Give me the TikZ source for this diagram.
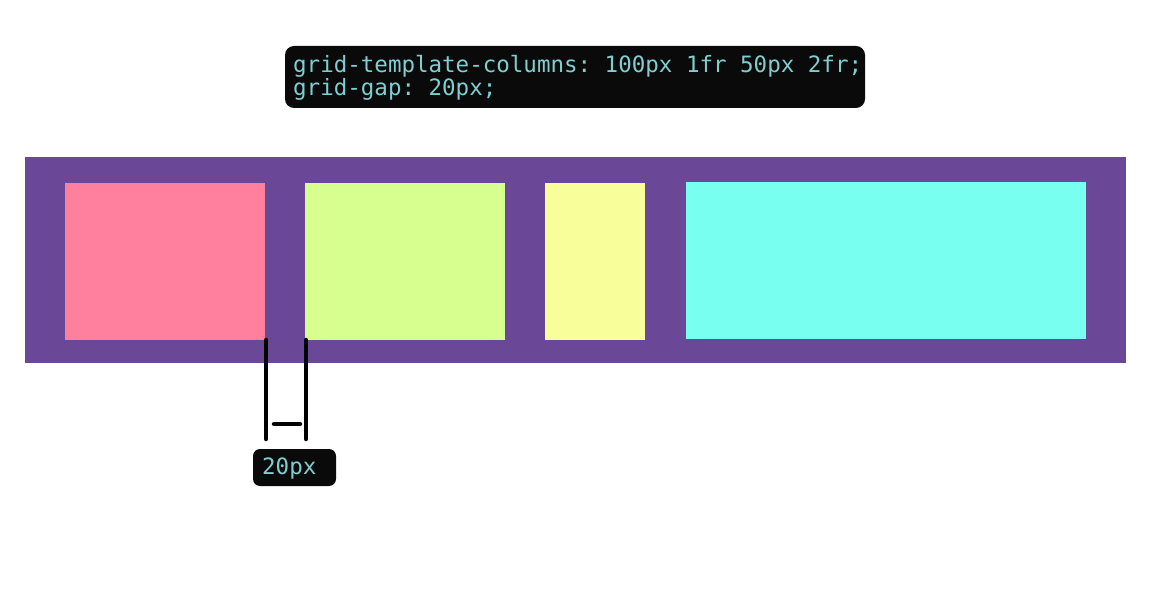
\documentclass[tikz,border=0pt]{standalone}
\usepackage{fontspec}
\setmonofont{DejaVu Sans Mono}
\definecolor{gridpurple}{HTML}{6B4798}
\definecolor{cellpink}{HTML}{FF809E}
\definecolor{cellgreen}{HTML}{D6FF8F}
\definecolor{cellyellow}{HTML}{F8FF9A}
\definecolor{cellcyan}{HTML}{78FFEF}
\definecolor{codebg}{HTML}{0A0A0A}
\definecolor{codefg}{HTML}{7FCFD0}
\tikzset{
  cell/.style={draw=none, inner sep=0pt, outer sep=0pt, anchor=north west},
  codebox/.style={fill=codebg, rounded corners=9pt, draw=none},
  codetext/.style={text=codefg, font=\ttfamily\fontsize{22.5}{22.5}\selectfont, inner sep=0pt, anchor=base west},
  marker/.style={line width=4.5pt, black, line cap=round}
}
\begin{document}
\begin{tikzpicture}[x=1pt,y=-1pt]
\useasboundingbox (0,0) rectangle (1151,601);
% code box
\fill[codebox] (285,46) rectangle (865,108);
\node[codetext] (l1) at (293,73) {grid-template-columns: 100px 1fr 50px 2fr;};
\node[codetext] (l2) at (293,96) {grid-gap: 20px;};
% grid container
\node[cell, fill=gridpurple, minimum width=1101pt, minimum height=206pt] (grid) at (25,157) {};
\node[cell, fill=cellpink, minimum width=200pt, minimum height=157pt] (c1) at (65,183) {};
\node[cell, fill=cellgreen, minimum width=200pt, minimum height=157pt] (c2) at (305,183) {};
\node[cell, fill=cellyellow, minimum width=100pt, minimum height=157pt] (c3) at (545,183) {};
\node[cell, fill=cellcyan, minimum width=400pt, minimum height=157pt] (c4) at (686,182) {};
% gap marker
\coordinate (a1) at (266,340);
\coordinate (a2) at (266,439);
\coordinate (b1) at (306,340);
\coordinate (b2) at (306,439);
\coordinate (h1) at (274,424);
\coordinate (h2) at (300,424);
\draw[marker] (a1) -- (a2);
\draw[marker] (b1) -- (b2);
\draw[marker] (h1) -- (h2);
% label
\fill[codebox, rounded corners=7pt] (253,449) rectangle (336,486);
\node[codetext] (lab) at (262,474) {20px};
\end{tikzpicture}
\end{document}
